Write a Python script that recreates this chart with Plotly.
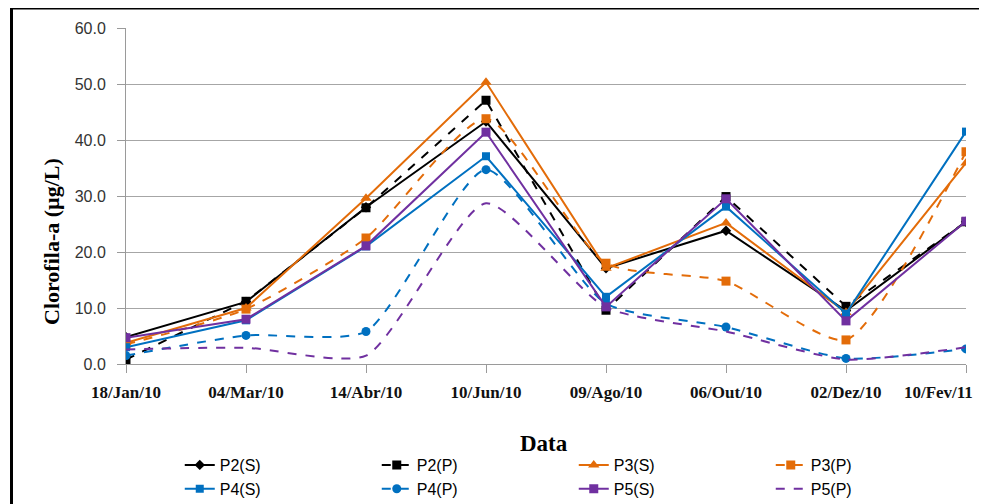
import plotly.graph_objects as go

# Sampling dates (category axis)
datas = ["18/Jan/10", "04/Mar/10", "14/Abr/10", "10/Jun/10",
         "09/Ago/10", "06/Out/10", "02/Dez/10", "10/Fev/11"]
# the last label sits left of its tick in the original, so it is padded
rotulos = datas[:-1] + ["10/Fev/11" + "&nbsp;" * 13]

# Clorofila-a (ug/L) per station, S = surface, P = bottom
p2_s = [4.8, 11.1, 28.0, 43.3, 17.1, 23.8, 9.5, 25.4]
p2_p = [0.8, 11.2, 27.9, 47.1, 9.6, 29.9, 10.3, 25.4]
p3_s = [3.8, 10.0, 29.6, 50.3, 17.1, 25.2, 9.2, 35.9]
p3_p = [3.5, 9.8, 22.5, 43.8, 18.0, 14.8, 4.3, 37.9]
p4_s = [3.0, 7.8, 21.0, 37.1, 12.0, 28.1, 9.0, 41.5]
p4_p = [1.5, 5.1, 5.8, 34.7, 10.8, 6.6, 1.0, 2.7]
p5_s = [4.7, 8.0, 21.1, 41.4, 10.2, 29.5, 7.7, 25.5]
p5_p = [2.6, 2.9, 1.5, 28.7, 10.1, 5.8, 0.8, 3.0]

BLACK = "#000000"
ORANGE = "#E36C09"
BLUE = "#0070C0"
PURPLE = "#7030A0"

series = [
    ("P2(S)", p2_s, BLACK, "solid", "diamond", 8, "linear"),
    ("P2(P)", p2_p, BLACK, "dash", "square", 9, "linear"),
    ("P3(S)", p3_s, ORANGE, "solid", "triangle-up", 10, "linear"),
    ("P3(P)", p3_p, ORANGE, "dash", "square", 9, "spline"),
    ("P4(S)", p4_s, BLUE, "solid", "square", 8, "linear"),
    ("P4(P)", p4_p, BLUE, "dash", "circle", 9, "spline"),
    ("P5(S)", p5_s, PURPLE, "solid", "square", 9, "linear"),
    ("P5(P)", p5_p, PURPLE, "dash", None, 0, "spline"),
]

fig = go.Figure()
for name, vals, color, dash, symbol, size, shape in series:
    fig.add_trace(
        go.Scatter(
            x=datas,
            y=vals,
            name=name,
            mode="lines+markers" if symbol else "lines",
            line=dict(color=color, width=2, dash=dash, shape=shape, smoothing=0.6),
            marker=dict(symbol=symbol or "circle", size=size, color=color),
        )
    )

# page body has an 8px margin, so the figure is drawn 8px in and 8px down
fig.update_layout(
    width=979,
    height=496,
    margin=dict(l=118, r=21, t=20, b=140, autoexpand=False),
    paper_bgcolor="white",
    plot_bgcolor="white",
    showlegend=True,
    legend=dict(
        orientation="h",
        x=0.064,
        xanchor="left",
        y=-0.25,
        yanchor="top",
        entrywidth=152,
        entrywidthmode="pixels",
        tracegroupgap=0,
        font=dict(family="Liberation Sans", size=16, color="#000"),
    ),
    xaxis=dict(
        type="category",
        range=[0, 7],
        tickmode="array",
        tickvals=datas,
        ticktext=rotulos,
        showgrid=False,
        showline=True,
        linecolor="#9a9a9a",
        linewidth=1,
        ticks="outside",
        ticklen=8,
        tickcolor="#9a9a9a",
        ticklabelstandoff=5,
        tickfont=dict(family="Liberation Serif", size=17, color="#111", weight="bold"),
    ),
    yaxis=dict(
        range=[0, 60],
        dtick=10,
        tickformat=".1f",
        showgrid=True,
        gridcolor="#a6a6a6",
        gridwidth=1,
        showline=True,
        linecolor="#9a9a9a",
        linewidth=1,
        ticks="outside",
        ticklen=8,
        tickcolor="#9a9a9a",
        ticklabelstandoff=8,
        zeroline=False,
        tickfont=dict(family="Liberation Sans", size=16, color="#333"),
    ),
    annotations=[
        dict(
            text="<b>Clorofila-a (µg/L)</b>",
            xref="paper", yref="paper",
            x=(51 - 126) / 840, y=(364 - 242) / 336,
            xanchor="center", yanchor="middle",
            showarrow=False, textangle=-90,
            font=dict(family="Liberation Serif", size=22, color="#000"),
        ),
        dict(
            text="<b>Data</b>",
            xref="paper", yref="paper",
            x=(544 - 126) / 840, y=(364 - 443) / 336,
            xanchor="center", yanchor="middle",
            showarrow=False,
            font=dict(family="Liberation Serif", size=23, color="#000"),
        ),
    ],
    shapes=[
        dict(
            type="rect", xref="paper", yref="paper",
            x0=(11.5 - 126) / 840, x1=(995 - 126) / 840,
            y0=(364 - 515) / 336, y1=(364 - 8) / 336,
            line=dict(color="#000", width=3),
        )
    ],
)

fig.write_html("out.html")
